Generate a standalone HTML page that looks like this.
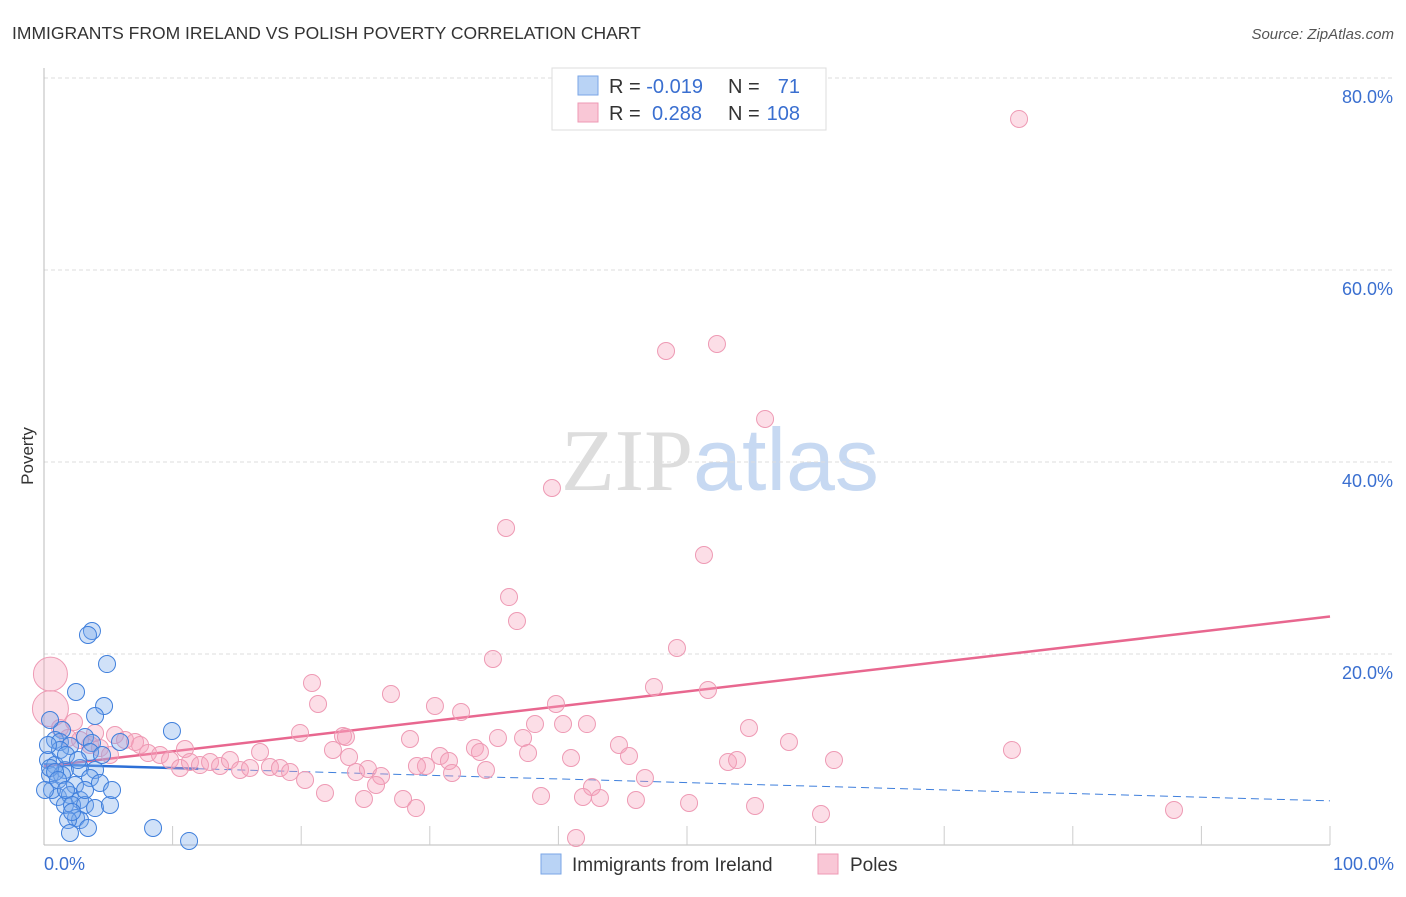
<!DOCTYPE html>
<html><head><meta charset="utf-8">
<style>
body{margin:0;background:#fff;font-family:"Liberation Sans",sans-serif;}
svg text{font-family:"Liberation Sans",sans-serif;}
</style></head>
<body>
<svg id="chart" width="1406" height="892" viewBox="0 0 1406 892" xmlns="http://www.w3.org/2000/svg">
<text x="12" y="39" font-size="17.5" fill="#333">IMMIGRANTS FROM IRELAND VS POLISH POVERTY CORRELATION CHART</text>
<text x="1394" y="39" font-size="15" fill="#555" text-anchor="end" font-style="italic">Source: ZipAtlas.com</text>
<text transform="translate(33,456) rotate(-90)" font-size="17" fill="#333" text-anchor="middle">Poverty</text>
<text x="720" y="490" font-size="88" text-anchor="middle"><tspan fill="#ddd" font-family="Liberation Serif">ZIP</tspan><tspan fill="#c7d9f2">atlas</tspan></text>
<g id="grid"></g>
<g id="axes"></g>
<g id="trend"></g>
<g id="pts"></g>
<g>
<rect x="552" y="68" width="274" height="62" fill="#fff" stroke="#ddd"/>
<rect x="578" y="76" width="20" height="19" fill="#b9d3f5" stroke="#7aa6e6"/>
<rect x="578" y="103" width="20" height="19" fill="#f9c7d6" stroke="#ee9ab4"/>
<text x="609" y="93" font-size="20" fill="#333">R = <tspan fill="#3a6fd0">-0.019</tspan></text>
<text x="728" y="93" font-size="20" fill="#333">N = </text><text x="800" y="93" font-size="20" fill="#3a6fd0" text-anchor="end">71</text>
<text x="609" y="120" font-size="20" fill="#333">R = <tspan fill="#3a6fd0" x="652">0.288</tspan></text>
<text x="728" y="120" font-size="20" fill="#333">N = </text><text x="800" y="120" font-size="20" fill="#3a6fd0" text-anchor="end">108</text>
</g>
<g>
<rect x="541" y="854" width="20" height="20" fill="#b9d3f5" stroke="#7aa6e6"/>
<text x="572" y="871" font-size="19" fill="#333">Immigrants from Ireland</text>
<rect x="818" y="854" width="20" height="20" fill="#f9c7d6" stroke="#ee9ab4"/>
<text x="850" y="871" font-size="19" fill="#333">Poles</text>
</g>
</svg>
<script>
const yTicks=[20,40,60,80];
const xTickLabels=["0.0%","100.0%"];
function polx(p){return (p-44)/12.86;}
function poly(p){return (845-p)/9.6;}
const polesPx=[[1019,119],[666,351],[717,344],[765,419],[552,488],[506,528],[704,555],[509,597],[517,621],[677,648],[493,659],[312,683],[654,687],[708,690],[391,694],[318,704],[556,704],[435,706],[461,712],[535,724],[563,724],[587,724],[300,733],[749,728],[343,736],[346,737],[498,738],[410,739],[523,738],[185,749],[333,750],[475,748],[619,745],[789,742],[1012,750],[440,756],[480,752],[349,757],[260,752],[629,756],[571,758],[728,762],[737,760],[834,760],[528,753],[426,766],[449,761],[417,766],[368,769],[452,773],[356,772],[486,770],[381,776],[305,780],[645,778],[325,793],[376,785],[403,799],[364,799],[592,787],[583,797],[600,798],[541,796],[636,800],[689,803],[416,808],[755,806],[821,814],[1174,810],[576,838],[60,728],[74,722],[80,740],[90,745],[100,748],[115,735],[125,740],[135,742],[140,745],[148,753],[160,755],[170,760],[180,768],[190,762],[200,765],[210,762],[220,766],[230,760],[240,770],[250,768],[270,767],[280,768],[290,772],[110,755],[95,733],[68,738]];
const polesX=polesPx.map(p=>+polx(p[0]).toFixed(2));
const polesY=polesPx.map(p=>+poly(p[1]).toFixed(2));
const polesBigX=[0.5,0.5];const polesBigY=[17.8,14.2];
const irePx=[[92,631],[88,635],[107,664],[76,692],[104,706],[95,716],[172,731],[62,730],[50,720],[55,740],[60,742],[70,746],[85,737],[92,743],[120,742],[48,760],[55,765],[65,770],[80,768],[95,770],[50,775],[62,775],[75,785],[90,778],[100,783],[58,797],[70,795],[80,800],[65,805],[72,805],[85,805],[95,808],[110,805],[76,818],[80,820],[68,820],[88,828],[70,833],[153,828],[189,841],[60,750],[90,752],[52,790],[50,768],[55,772],[48,745],[66,755],[78,760],[102,755],[58,780],[45,790],[85,790],[72,812],[112,790],[66,790]];
const ireX=irePx.map(p=>+polx(p[0]).toFixed(2));
const ireY=irePx.map(p=>+poly(p[1]).toFixed(2));
const polesTrend=[8.2,23.8];
const ireTrend=[8.4,4.6];

const X=v=>44+v*12.86, Y=v=>845-v*9.6;
const NS="http://www.w3.org/2000/svg";
function mk(tag,attrs,parent){const e=document.createElementNS(NS,tag);for(const k in attrs)e.setAttribute(k,attrs[k]);parent.appendChild(e);return e;}
const grid=document.getElementById('grid'),axes=document.getElementById('axes');
yTicks.forEach(t=>{
 const l=mk('line',{x1:44,x2:1392,y1:Y(t)+1,y2:Y(t)+1,stroke:'#ddd','stroke-dasharray':'4,3'},grid);
 
 
 const tx=mk('text',{x:1393,y:Y(t)+26,'font-size':18,fill:'#3a6fd0','text-anchor':'end'},axes);
 tx.textContent=t.toFixed(1)+'%';
 
 
});
const ya=mk('line',{x1:44,x2:44,y1:68,y2:845,stroke:'#bbb'},axes);


const xa=mk('line',{x1:44,x2:1330,y1:845,y2:845,stroke:'#bbb'},axes);


for(let i=1;i<=10;i++){const t=mk('line',{x1:X(i*10),x2:X(i*10),y1:826,y2:845,stroke:'#ccc'},axes);
 
 }
[[0,'start',44],[100,'end',1394]].forEach((d,i)=>{const t=mk('text',{x:d[2],y:870,'font-size':18,fill:'#3a6fd0','text-anchor':d[1]},axes);t.textContent=xTickLabels[i];
 
 });
const pts=document.getElementById('pts');
polesBigX.forEach((x,i)=>{const c=mk('circle',{cx:X(x),cy:Y(polesBigY[i]),r:i?18:17,fill:'rgba(245,160,185,0.35)',stroke:'#ee9ab4','stroke-width':1},pts);
 
 });
polesX.forEach((x,i)=>{const c=mk('circle',{cx:X(x),cy:Y(polesY[i]),r:8.5,fill:'rgba(245,160,185,0.35)',stroke:'#ee9ab4','stroke-width':1},pts);
 
 });
ireX.forEach((x,i)=>{const c=mk('circle',{cx:X(x),cy:Y(ireY[i]),r:8.5,fill:'rgba(120,170,235,0.35)',stroke:'#3f7fdc','stroke-width':1},pts);
 
 });
const tr=document.getElementById('trend');
const at=(a,x)=>a[0]+(a[1]-a[0])*x/100;
let l=mk('line',{x1:X(12),y1:Y(at(ireTrend,12)),x2:X(100),y2:Y(ireTrend[1]),stroke:'#3f7fdc','stroke-width':1,'stroke-dasharray':'8,5'},tr);


l=mk('line',{x1:X(0),y1:Y(ireTrend[0]),x2:X(12),y2:Y(at(ireTrend,12)),stroke:'#2d6fd6','stroke-width':2.5},tr);


l=mk('line',{x1:X(0),y1:Y(polesTrend[0]),x2:X(100),y2:Y(polesTrend[1]),stroke:'#e8678f','stroke-width':2.5},tr);


</script>
</body></html>
